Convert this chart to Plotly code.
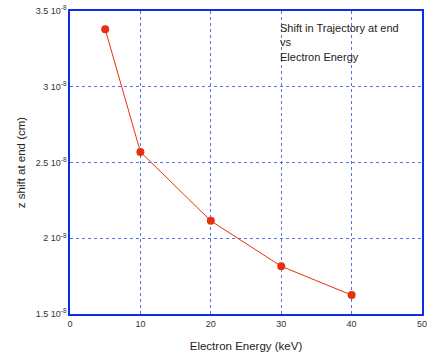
import plotly.graph_objects as go

energy = [5, 10, 20, 30, 40]
zshift = [3.38e-8, 2.57e-8, 2.115e-8, 1.815e-8, 1.625e-8]
xticks = [0, 10, 20, 30, 40, 50]
yticks = [1.5e-8, 2e-8, 2.5e-8, 3e-8, 3.5e-8]
yticklabels = ["1.5 10<sup>-8</sup>", "2 10<sup>-8</sup>", "2.5 10<sup>-8</sup>", "3 10<sup>-8</sup>", "3.5 10<sup>-8</sup>"]

fig = go.Figure()
fig.add_trace(go.Scatter(x=energy, y=zshift, mode="lines+markers",
                         line=dict(color="#e8300e", width=1),
                         marker=dict(color="#e8300e", size=8)))

axis_common = dict(showline=True, linecolor="#0a2ee8", linewidth=1.5, mirror=True,
                   showgrid=True, gridcolor="#5570f0", griddash="dot", gridwidth=1,
                   zeroline=False, ticks="", automargin=False, ticklabeloverflow="allow",
                   tickfont=dict(family="Liberation Sans", size=9, color="#333"))

fig.update_xaxes(range=[0, 50], tickvals=xticks,
                 title=dict(text="Electron Energy (keV)", font=dict(family="Liberation Sans", size=11.5, color="#222"), standoff=14),
                 **axis_common)
fig.update_yaxes(range=[1.5e-8, 3.5e-8], tickvals=yticks, ticktext=yticklabels,
                 title=dict(text="z shift at end (cm)", font=dict(family="Liberation Sans", size=11.5, color="#222"), standoff=8),
                 **axis_common)

fig.add_annotation(text="Shift in Trajectory at end<br>vs<br>Electron Energy",
                   xref="paper", yref="paper", x=0.59, y=0.97, xanchor="left", yanchor="top",
                   showarrow=False, align="left",
                   font=dict(family="Liberation Sans", size=11, color="#222"))

fig.update_layout(width=427, height=360, margin=dict(l=70, r=5, t=11, b=46),
                  paper_bgcolor="white", plot_bgcolor="white", showlegend=False)

fig.write_html("out.html")
